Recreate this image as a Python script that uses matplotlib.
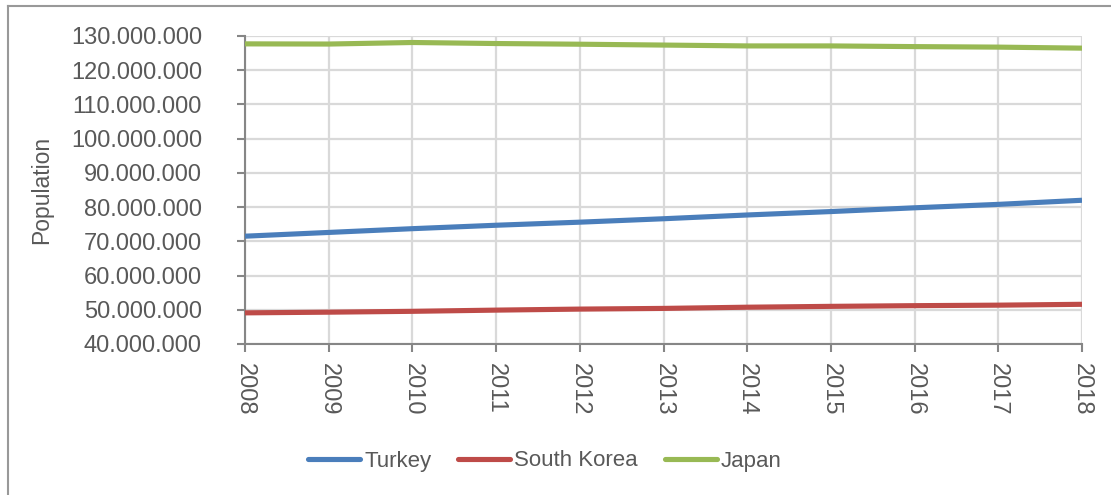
import matplotlib
matplotlib.use("Agg")
import matplotlib.pyplot as plt
from matplotlib.lines import Line2D
from matplotlib.ticker import FuncFormatter, MultipleLocator

years = [2008, 2009, 2010, 2011, 2012, 2013, 2014, 2015, 2016, 2017, 2018]
turkey = [71.5e6, 72.6e6, 73.7e6, 74.7e6, 75.6e6, 76.6e6, 77.7e6, 78.7e6, 79.8e6, 80.8e6, 82.0e6]
south_korea = [49.1e6, 49.3e6, 49.55e6, 49.9e6, 50.2e6, 50.4e6, 50.75e6, 51.0e6, 51.2e6, 51.35e6, 51.6e6]
japan = [127.7e6, 127.65e6, 128.1e6, 127.8e6, 127.6e6, 127.35e6, 127.1e6, 127.1e6, 126.9e6, 126.75e6, 126.45e6]
series_names = ["Turkey", "South Korea", "Japan"]
series_colors = ["#4A7EBB", "#BE4B48", "#98B954"]

plt.rcParams["font.family"] = ["Liberation Sans", "DejaVu Sans"]
text_color = "#595959"
grid_color = "#D9D9D9"
axis_color = "#868686"

fig = plt.figure(figsize=(11.11, 4.95), dpi=100)
W, H = 1111, 495
ax = fig.add_axes([245 / W, 1 - 344 / H, (1082 - 245) / W, (344 - 36) / H])

for vals, name, col in zip([turkey, south_korea, japan], series_names, series_colors):
    ax.plot(years, vals, color=col, lw=3.7, label=name, solid_capstyle="butt", zorder=3)

ax.set_xlim(2008, 2018)
ax.set_ylim(40e6, 130e6)
ax.yaxis.set_major_locator(MultipleLocator(10e6))
ax.set_xticks(years)
ax.set_xticklabels([str(y) for y in years], rotation=270)
ax.yaxis.set_major_formatter(FuncFormatter(lambda v, p: f"{int(round(v)):,}".replace(",", ".")))

ax.grid(True, color=grid_color, lw=1.6, zorder=0)
for side in ["top", "right"]:
    ax.spines[side].set_visible(False)
for side in ["left", "bottom"]:
    ax.spines[side].set_color(axis_color)
    ax.spines[side].set_linewidth(1.5)
ax.tick_params(axis="both", colors=axis_color, length=6, width=1.5, direction="out",
               labelcolor=text_color, labelsize=17)
ax.tick_params(axis="y", pad=25)
ax.tick_params(axis="x", pad=8)

ax.set_ylabel("Population", fontsize=16.5, color=text_color)
ax.yaxis.set_label_coords(-0.229, 0.5)

leg = fig.legend(loc="center", bbox_to_anchor=(545 / W, 1 - 461 / H), ncol=3, frameon=False,
                 fontsize=16, labelcolor=text_color, handlelength=2.35, handletextpad=0.18,
                 columnspacing=1.2)
for line in leg.get_lines():
    line.set_linewidth(3.7)
    line.set_solid_capstyle("round")

# Chart-area border (left and top edges)
fig.add_artist(Line2D([8 / W, 8 / W], [0, 1 - 6 / H], color="#999999", lw=1.5,
                      transform=fig.transFigure))
fig.add_artist(Line2D([8 / W, 1], [1 - 6 / H, 1 - 6 / H], color="#999999", lw=1.5,
                      transform=fig.transFigure))

fig.savefig("out.png", dpi=100)
